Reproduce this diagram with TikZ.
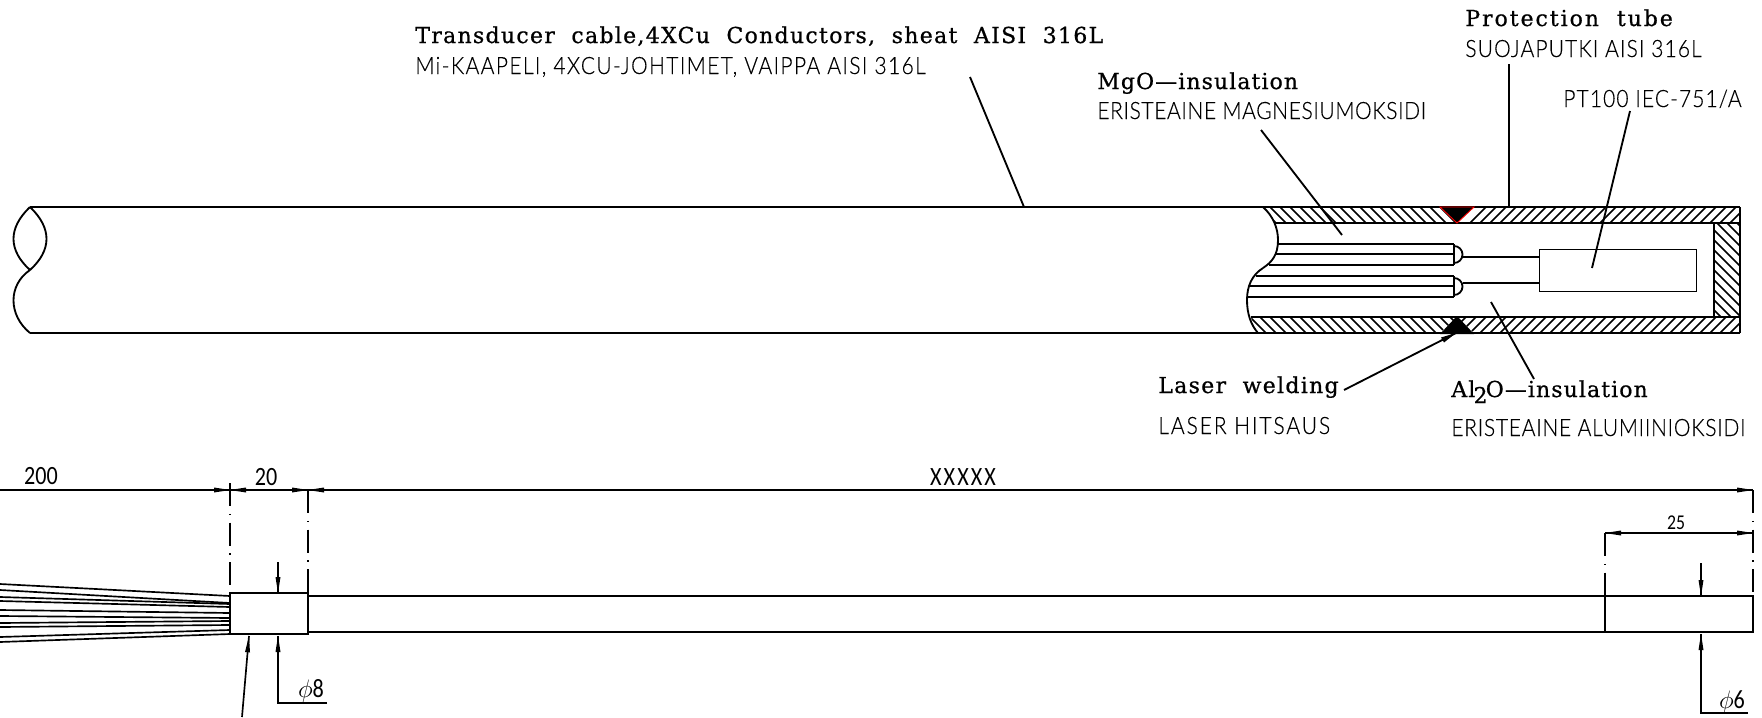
\documentclass[tikz,border=0pt]{standalone}
\usepackage{fontspec}
\setmainfont{DejaVu Serif}
\newfontfamily\serffont[WordSpace=2,FakeBold=0.8]{DejaVu Serif}
\newfontfamily\isofont[FakeStretch=0.88,FakeBold=0.25]{Lato Light}
\newfontfamily\numfont[FakeStretch=0.84]{Carlito}
\begin{document}
\begin{tikzpicture}[x=0.02cm,y=0.02cm]
\tikzstyle{every node}+=[inner sep=0pt]
\tikzset{
  engl/.style={anchor=base west,font=\serffont\addfontfeature{LetterSpace=#1}\fontsize{12.5}{14}\selectfont},
  engl/.default=6,
  fin/.style={anchor=base west,font=\isofont\addfontfeature{LetterSpace=#1}\fontsize{13.6}{18}\selectfont},
  fin/.default=2.5,
  dimtxt/.style={anchor=base,font=\numfont\fontsize{15}{18}\selectfont},
  tube/.style={black,line width=1.05pt},
  thin hatch/.style={black,line width=0.9pt},
  dimline/.style={black,line width=0.95pt},
  chain/.style={black,line width=0.95pt,dash pattern=on 13pt off 4.5pt on 0.6pt off 4.5pt}
}
\useasboundingbox (0,0) rectangle (1762,-717);
% labels
\node [engl] (cablen) at (415,-43) {Transducer cable,4XCu Conductors, sheat AISI 316L};
\node [fin=5.7] (cabfi) at (415,-74) {Mi-KAAPELI, 4XCU-JOHTIMET, VAIPPA AISI 316L};
\node [engl=5] (mgoen) at (1097,-89) {MgO—insulation};
\node [fin] (mgofi) at (1097,-119) {ERISTEAINE MAGNESIUMOKSIDI};
\node [engl=9] (tubeen) at (1465,-26) {Protection tube};
\node [fin=4.6] (tubefi) at (1465,-57) {SUOJAPUTKI AISI 316L};
\node [fin=4.5] (ptlabel) at (1563,-107) {PT100 IEC-751/A};
\node [engl] (laseren) at (1158,-393) {Laser welding};
\node [fin=8] (laserfi) at (1158,-434) {LASER HITSAUS};
\node [engl=5] (alen) at (1451,-397) {Al\kern-1pt\raisebox{-3.5pt}{2}\kern-1pt O—insulation};
\node [fin=3] (alfi) at (1451,-436) {ERISTEAINE ALUMIINIOKSIDI};
% cable, broken end
\draw [tube] (30,-207) -- (1740,-207);
\draw [tube] (30,-333) -- (1740,-333);
\draw [tube] (30,-207) .. controls (8,-228) and (8,-250) .. (30,-270);
\draw [tube] (30,-207) .. controls (52,-228) and (52,-250) .. (30,-270);
\draw [tube] (30,-270) .. controls (8,-285) and (8,-315) .. (30,-333);
% cut face
\draw [tube] (1263,-207) .. controls (1273,-216) and (1278,-228) .. (1278,-240);
\draw [tube] (1278,-240) .. controls (1278,-255) and (1272,-262) .. (1263,-268);
\draw [tube] (1263,-268) .. controls (1252,-275) and (1247,-286) .. (1247,-300);
\draw [tube] (1247,-300) .. controls (1247,-314) and (1251,-325) .. (1258,-333);
% hatching
\begin{scope}
\clip (1263,-207) .. controls (1267,-211) and (1271,-216) .. (1275,-223) -- (1457,-223) -- (1440,-207) -- cycle;
\foreach \x in {1200,1210,...,1480}
  \draw [thin hatch] (\x,-207) -- (\x+16,-223);
\end{scope}
\begin{scope}
\clip (1474,-207) -- (1457,-223) -- (1740,-223) -- (1740,-207) -- cycle;
\foreach \x in {1470,1480,...,1760}
  \draw [thin hatch] (\x,-223) -- (\x+16,-207);
\end{scope}
\begin{scope}
\clip (1251,-317) .. controls (1252,-323) and (1254,-328) .. (1258,-333) -- (1440,-333) -- (1457,-317) -- cycle;
\foreach \x in {1230,1240,...,1480}
  \draw [thin hatch] (\x,-317) -- (\x+16,-333);
\end{scope}
\begin{scope}
\clip (1457,-317) -- (1474,-333) -- (1740,-333) -- (1740,-317) -- cycle;
\foreach \x in {1450,1460,...,1760}
  \draw [thin hatch] (\x,-333) -- (\x+16,-317);
\end{scope}
\begin{scope}
\clip (1714,-223) rectangle (1740,-317);
\foreach \y in {-340,-330,...,-190}
  \draw [thin hatch] (1714,\y) -- (1740,\y-26);
\end{scope}
% tube walls
\draw [tube] (1275,-223) -- (1740,-223);
\draw [tube] (1251,-317) -- (1740,-317);
\draw [tube] (1740,-207) -- (1740,-333);
\draw [tube] (1714,-223) -- (1714,-317);
% welds
\draw [red,fill=black,line width=0.5pt] (1440,-207) -- (1474,-207) -- (1457,-223) -- cycle;
\fill [black] (1440,-334) -- (1474,-334) -- (1457,-316) -- cycle;
% conductors
\foreach \y/\xs in {244/1278,254/1276,265/1269,276/1256,286/1250,297/1247}
  \draw [tube] (\xs,-\y) -- (1454,-\y);
\draw [tube] (1454,-244) -- (1454,-265);
\draw [tube] (1454,-276) -- (1454,-297);
\draw [tube] (1454,-246) arc (90:-90:8.5 and 8.5);
\draw [tube] (1454,-278) arc (90:-90:8.5 and 8.5);
% sensor
\node [draw,tube,minimum width=3.14cm,minimum height=0.84cm] (sensor) at (1618,-270.5) {};
\coordinate (wireA) at (1462.5,-257);
\coordinate (wireB) at (1462.5,-283);
\draw [tube] (wireA) -- (wireA -| sensor.west);
\draw [tube] (wireB) -- (wireB -| sensor.west);
% leaders
\draw [tube] (970,-77) -- (1024,-207);
\draw [tube] (1261,-130) -- (1342,-235);
\draw [tube] (1509,-64) -- (1509,-207);
\draw [tube] (1630,-111) -- (1592,-268);
\draw [tube] (1344,-390) -- (1456,-333);
\fill [black] (1456,-333) -- (1441,-337.5) -- (1444,-342.5);
\draw [tube] (1534,-379) -- (1491,-302);
% dimensions
\node [dimtxt] (dimA) at (41,-484) {200};
\node [dimtxt] (dimB) at (266,-485) {20};
\node [dimtxt,font=\numfont\addfontfeature{LetterSpace=8}\fontsize{15}{18}\selectfont] (dimC) at (963,-485) {XXXXX};
\node [dimtxt,font=\numfont\fontsize{12}{14}\selectfont] (dimD) at (1676,-529) {25};
\draw [dimline] (0,-490) -- (1753,-490);
\draw [dimline] (1605,-533) -- (1753,-533);
\fill [black] (230,-490) -- (214,-487.5) -- (214,-492.5);
\fill [black] (230,-490) -- (246,-487.5) -- (246,-492.5);
\fill [black] (308,-490) -- (292,-487.5) -- (292,-492.5);
\fill [black] (308,-490) -- (324,-487.5) -- (324,-492.5);
\fill [black] (1753,-490) -- (1737,-487.5) -- (1737,-492.5);
\fill [black] (1605,-533) -- (1621,-530.5) -- (1621,-535.5);
\fill [black] (1753,-533) -- (1737,-530.5) -- (1737,-535.5);
\draw [chain] (230,-483) -- (230,-593);
\draw [chain] (308,-490) -- (308,-593);
\draw [chain] (1605,-533) -- (1605,-596);
\draw [chain] (1753,-490) -- (1753,-596);
% probe
\foreach \ya/\yb in {584/596,590/603,597/604,601/607,610/613,616/618,623/621,627/625,637/630,642/634}
  \draw [black,line width=0.95pt] (0,-\ya) -- (230,-\yb);
\draw [tube] (230,-593) rectangle (308,-634);
\draw [tube] (308,-596) -- (1753,-596) -- (1753,-632) -- (308,-632);
\draw [tube] (1605,-596) -- (1605,-632);
% diameters
\draw [dimline] (278,-562) -- (278,-593);
\fill [black] (278,-593) -- (275.5,-577) -- (280.5,-577);
\draw [dimline] (327,-703) -- (278,-703) -- (278,-636);
\fill [black] (278,-636) -- (275.5,-652) -- (280.5,-652);
\node [dimtxt] (dimE) at (311,-697) {$\phi$8};
\draw [dimline] (242,-717) -- (249,-636);
\fill [black] (249,-636) -- (245,-652) -- (250,-652.5);
\draw [dimline] (1701,-563) -- (1701,-596);
\fill [black] (1701,-596) -- (1698.5,-580) -- (1703.5,-580);
\draw [dimline] (1748,-713) -- (1701,-713) -- (1701,-634);
\fill [black] (1701,-634) -- (1698.5,-650) -- (1703.5,-650);
\node [dimtxt] (dimF) at (1732,-708) {$\phi$6};
\end{tikzpicture}
\end{document}
